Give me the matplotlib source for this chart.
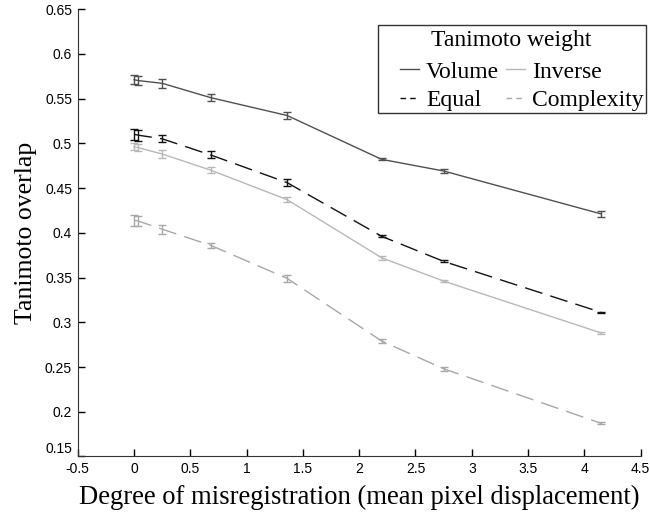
import matplotlib
matplotlib.use('Agg')
import matplotlib.pyplot as plt
from matplotlib.patches import Rectangle
from matplotlib.lines import Line2D
import numpy as np

# misregistration levels (mean pixel displacement)
x = [0.0, 0.04, 0.25, 0.68, 1.36, 2.2, 2.75, 4.15]

volume = [0.571, 0.570, 0.567, 0.551, 0.531, 0.482, 0.469, 0.421]
volume_err = [0.005, 0.005, 0.005, 0.004, 0.004, 0.001, 0.002, 0.003]

equal = [0.510, 0.509, 0.505, 0.487, 0.456, 0.396, 0.368, 0.311]
equal_err = [0.006, 0.006, 0.004, 0.004, 0.004, 0.001, 0.001, 0.001]

inverse = [0.496, 0.495, 0.488, 0.470, 0.437, 0.372, 0.346, 0.288]
inverse_err = [0.004, 0.004, 0.004, 0.003, 0.003, 0.002, 0.001, 0.001]

complexity = [0.414, 0.413, 0.404, 0.386, 0.349, 0.279, 0.248, 0.187]
complexity_err = [0.006, 0.006, 0.005, 0.003, 0.004, 0.002, 0.002, 0.001]

names = ['Volume', 'Equal', 'Inverse', 'Complexity']

serif = ['Liberation Serif', 'DejaVu Serif']
tickfont = ['Liberation Sans', 'DejaVu Sans']

fig = plt.figure(figsize=(6.5, 5.12), dpi=100)
ax = fig.add_axes([0.1195, 0.1084, 0.8662, 0.874])

series = [
    (volume, volume_err, '#505050', False),
    (equal, equal_err, '#111111', True),
    (inverse, inverse_err, '#b8b8b8', False),
    (complexity, complexity_err, '#a8a8a8', True),
]
proxies = []
for vals, err, col, dashed in series:
    ls = (0, (13, 6)) if dashed else '-'
    ax.errorbar(x, vals, yerr=err, color=col, linestyle=ls, linewidth=1.0,
                elinewidth=1.0, capsize=3, capthick=1.0)
    # short dash pattern in the legend, like the original "--"
    proxies.append(Line2D([], [], color=col, linewidth=1.0,
                          linestyle=(0, (4, 3)) if dashed else '-'))

ax.set_xlim(-0.5, 4.5)
ax.set_ylim(0.15, 0.65)
ax.set_xticks(np.arange(-0.5, 4.51, 0.5))
ax.set_yticks(np.arange(0.15, 0.651, 0.05))
ax.set_xticklabels(['-0.5', '0', '0.5', '1', '1.5', '2', '2.5', '3', '3.5', '4', '4.5'])
ax.set_yticklabels(['0.15', '0.2', '0.25', '0.3', '0.35', '0.4', '0.45', '0.5', '0.55', '0.6', '0.65'])
for lab in ax.get_xticklabels() + ax.get_yticklabels():
    lab.set_family(tickfont)
    lab.set_fontsize(10)
ax.get_yticklabels()[0].set_verticalalignment('bottom')
ax.tick_params(direction='in', length=5, width=1)
ax.tick_params(axis='x', pad=4)
ax.tick_params(axis='y', pad=4)
ax.spines['top'].set_visible(False)
ax.spines['right'].set_visible(False)
ax.spines['left'].set_color('#333333')
ax.spines['bottom'].set_color('#333333')

ax.set_xlabel('Degree of misregistration (mean pixel displacement)', family=serif, fontsize=19.2, labelpad=6)
ax.set_ylabel('Tanimoto overlap', family=serif, fontsize=18.5, labelpad=6)

# legend box is drawn separately, wider on the left like the original
box = Rectangle((0.5815, 0.7793), 0.4123, 0.1719, transform=fig.transFigure,
                facecolor='white', edgecolor='#333333', linewidth=1.0, zorder=4, clip_on=False)
ax.add_patch(box)
leg = ax.legend(proxies, names, ncol=2, title=' ', loc='upper right',
                bbox_to_anchor=(1.016, 0.9595), prop={'family': serif, 'size': 17},
                title_fontproperties={'family': serif, 'size': 17},
                handlelength=0.8, handletextpad=0.3, columnspacing=0.3,
                labelspacing=0.3, borderpad=0.25, borderaxespad=0.0,
                frameon=False)
leg.set_zorder(5)
ax.text(0.786, 0.921, 'Tanimoto weight', transform=fig.transFigure, family=serif,
        fontsize=17, ha='center', va='center', zorder=6)

fig.savefig('out.png', dpi=100)
